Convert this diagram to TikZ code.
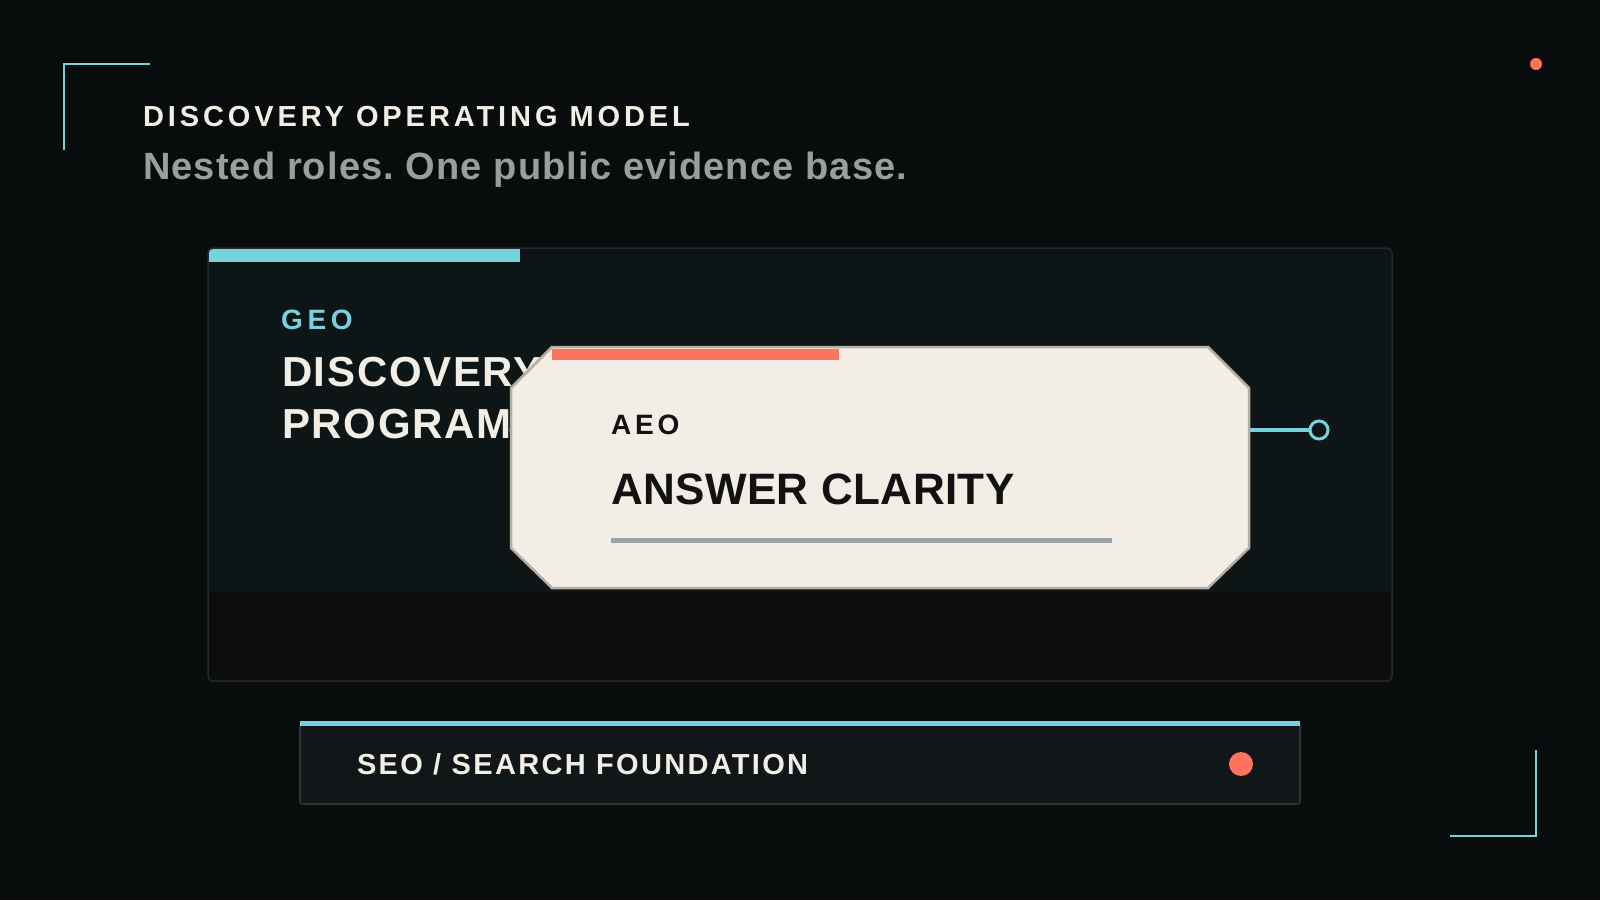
\documentclass[tikz,border=0pt]{standalone}
\usepackage{fontspec}
\setmainfont{Liberation Sans}
\newfontfamily\fTitle[LetterSpace=13.5]{Liberation Sans}
\newfontfamily\fSub[LetterSpace=3]{Liberation Sans}
\newfontfamily\fGeo[LetterSpace=17]{Liberation Sans}
\newfontfamily\fBig[LetterSpace=4]{Liberation Sans}
\newfontfamily\fAeo[LetterSpace=14]{Liberation Sans}
\newfontfamily\fAns[LetterSpace=1]{Liberation Sans}
\newfontfamily\fSeo[LetterSpace=8]{Liberation Sans}
\definecolor{bg}{HTML}{080C0D}
\definecolor{panel}{HTML}{0D1517}
\definecolor{band}{HTML}{0D0D0D}
\definecolor{panelborder}{HTML}{232B2C}
\definecolor{accent}{HTML}{76D3DE}
\definecolor{coral}{HTML}{FF725E}
\definecolor{cream}{HTML}{F2EDE5}
\definecolor{cardborder}{HTML}{B5AFA3}
\definecolor{subgray}{HTML}{95A09F}
\definecolor{rulegray}{HTML}{9AA4A4}
\definecolor{seofill}{HTML}{111718}
\definecolor{seoborder}{HTML}{2A3232}
\definecolor{ink}{HTML}{121212}
\tikzset{
  txt/.style={anchor=base west, inner sep=0pt, outer sep=0pt},
  bracket/.style={draw=accent, line width=2pt},
  port/.style={circle, draw=accent, line width=3pt, fill=panel, minimum size=18pt, inner sep=0pt},
  link/.style={draw=accent, line width=3.5pt},
}
\frenchspacing
\begin{document}
\begin{tikzpicture}[x=1pt,y=-1pt]
\fill[bg] (0,0) rectangle (1600,900);
\useasboundingbox (0,0) rectangle (1600,900);

% corner brackets
\coordinate (tlA) at (150,64); \coordinate (tlB) at (64,64); \coordinate (tlC) at (64,150);
\draw[bracket] (tlA) -- (tlB) -- (tlC);
\coordinate (brA) at (1450,836); \coordinate (brB) at (1536,836); \coordinate (brC) at (1536,750);
\draw[bracket] (brA) -- (brB) -- (brC);
\node[circle, fill=coral, minimum size=12pt, inner sep=0pt] (topdot) at (1536,64) {};

% header
\node[txt, text=cream, font=\fTitle\bfseries\fontsize{29}{34}\selectfont] (title) at (143,126) {DISCOVERY OPERATING MODEL};
\node[txt, text=subgray, font=\fSub\bfseries\fontsize{38}{44}\selectfont] (subtitle) at (143,179) {Nested roles. One public evidence base.};

% main panel
\begin{scope}
  \clip[rounded corners=5pt] (208,248) rectangle (1392,681);
  \fill[panel] (208,248) rectangle (1392,681);
  \fill[band] (208,592) rectangle (1392,681);
  \fill[accent] (208,248) rectangle (520,261.5);
\end{scope}
\draw[panelborder, line width=1.5pt, rounded corners=5pt] (208,248) rectangle (1392,681);

\node[txt, text=accent, font=\fGeo\bfseries\fontsize{28}{32}\selectfont] (geo) at (281,329) {GEO};
\node[txt, text=cream, font=\fBig\bfseries\fontsize{42}{50}\selectfont] (disc) at (282,386) {DISCOVERY};
\node[txt, text=cream, font=\fBig\bfseries\fontsize{42}{50}\selectfont] (prog) at (282,438) {PROGRAM};

% connector
\node[port] (portL) at (520,430) {};
\node[port] (portR) at (1319,430) {};
\draw[link] (portL.east) -- (portR.west);

% card
\draw[cardborder, line width=2.5pt, fill=cream]
  (552,347) -- (1208,347) -- (1249,388) -- (1249,548) -- (1208,588)
  -- (552,588) -- (511,548) -- (511,388) -- cycle;
\fill[coral] (552,348.5) rectangle (839,360);
\node[txt, text=ink, font=\fAeo\bfseries\fontsize{28}{32}\selectfont] (aeo) at (611,434) {AEO};
\node[txt, text=ink, font=\fAns\bfseries\fontsize{44}{50}\selectfont] (answer) at (611,504) {ANSWER CLARITY};
\coordinate (ruleA) at (611,540); \coordinate (ruleB) at (1112,540);
\draw[rulegray, line width=5pt] (ruleA) -- (ruleB);

% SEO bar
\draw[seoborder, line width=2pt, fill=seofill, rounded corners=3pt] (300,722) rectangle (1300,804);
\fill[accent] (300,721) rectangle (1300,726);
\node[txt, text=cream, font=\fSeo\bfseries\fontsize{29}{34}\selectfont] (seo) at (357,774) {SEO / SEARCH FOUNDATION};
\node[circle, fill=coral, minimum size=24pt, inner sep=0pt] (seodot) at (1241,764) {};
\end{tikzpicture}
\end{document}
